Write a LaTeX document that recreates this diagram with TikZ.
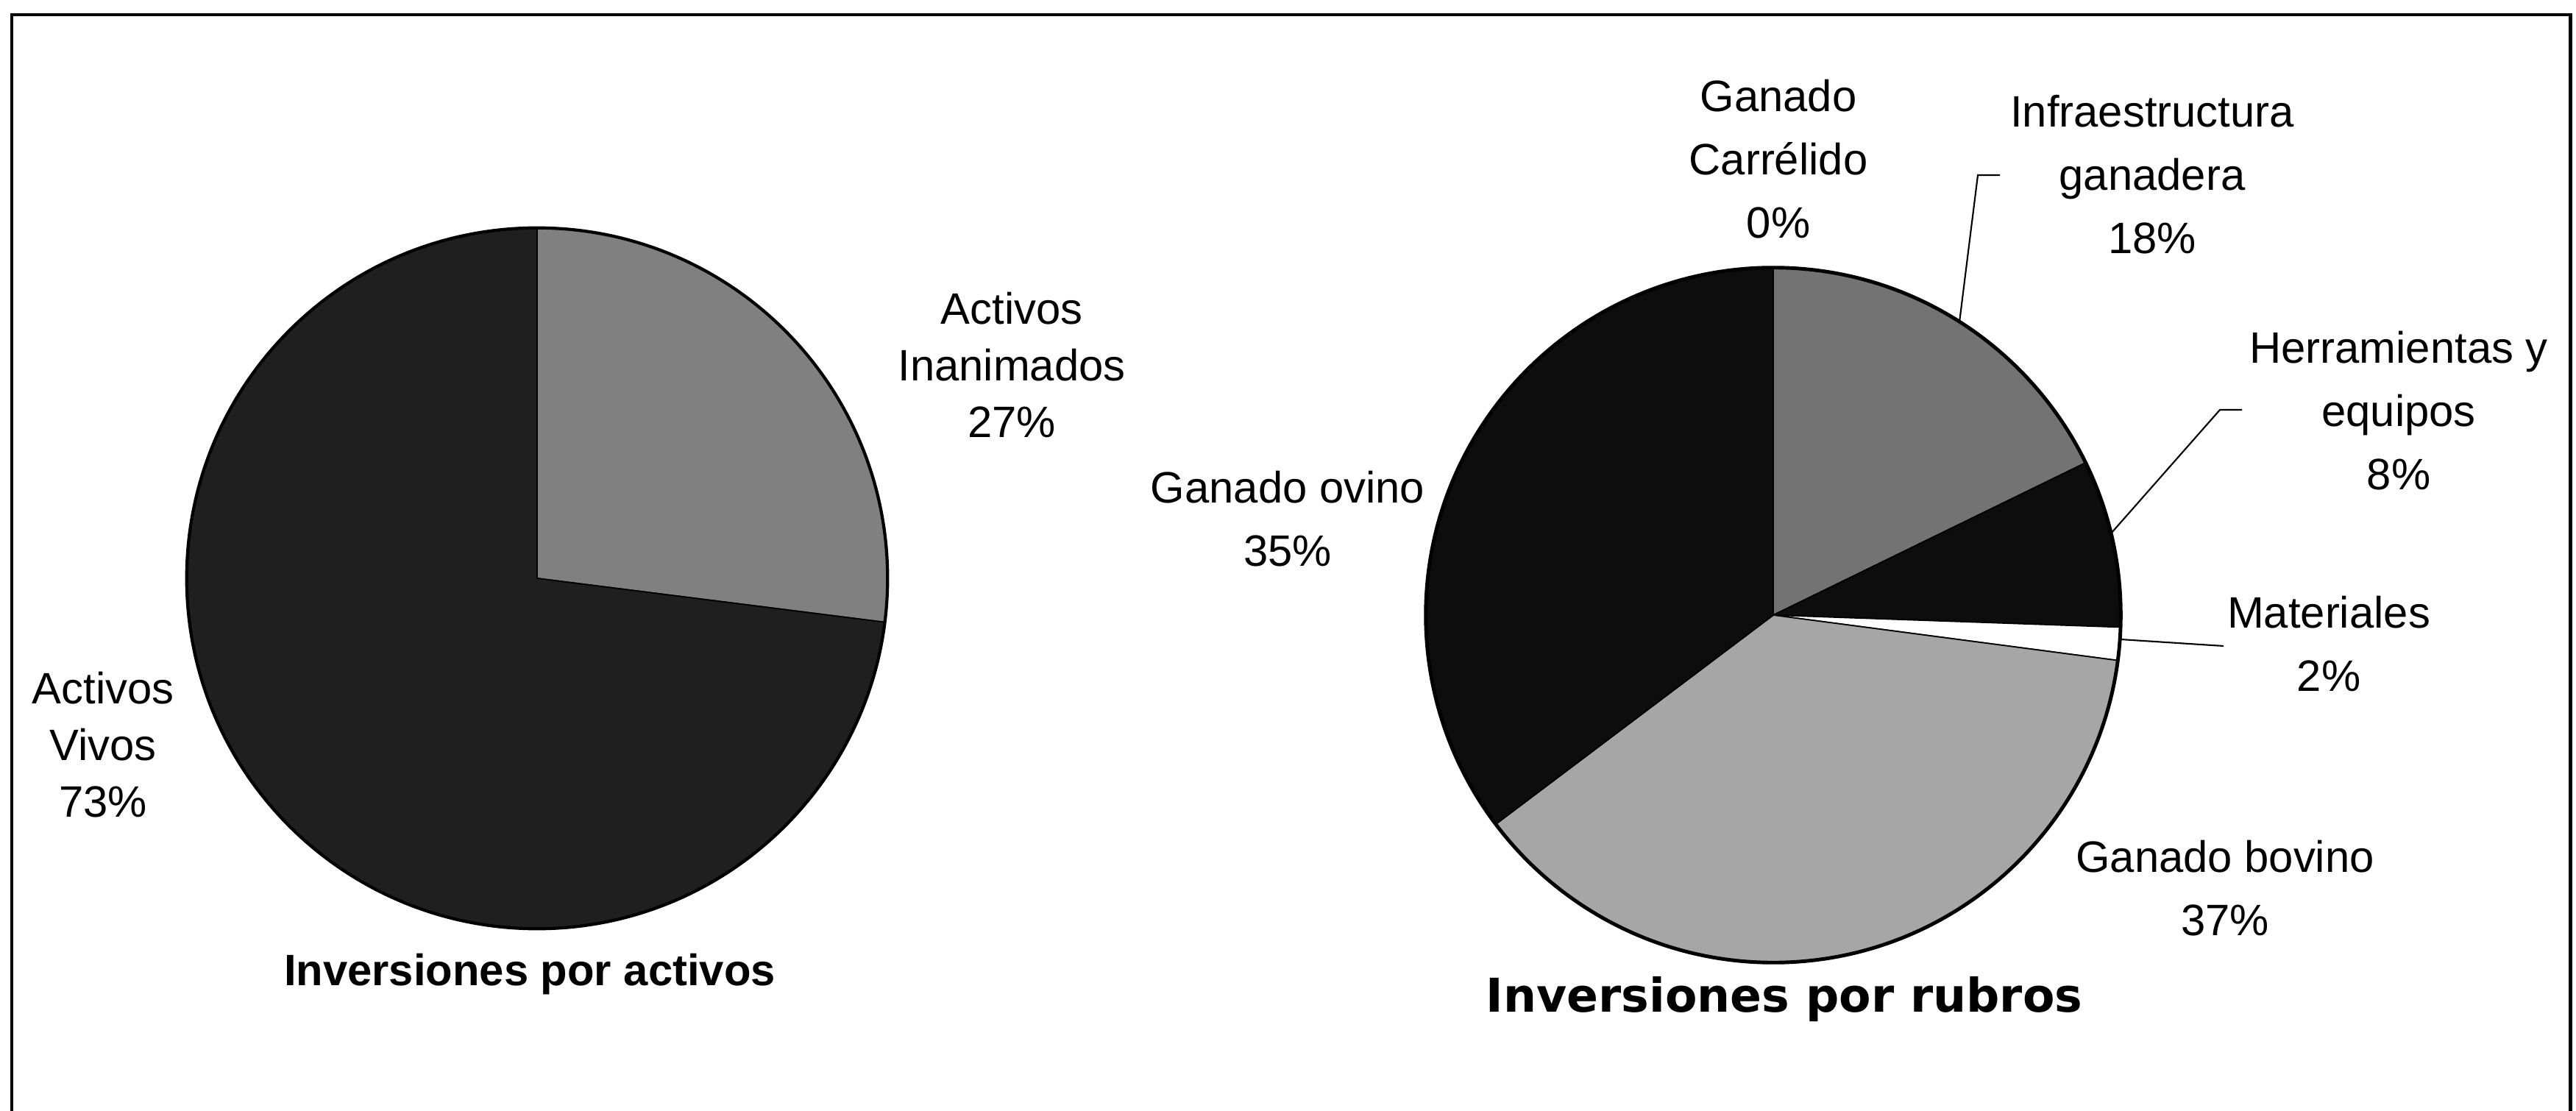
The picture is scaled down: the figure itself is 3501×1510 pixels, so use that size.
\documentclass[tikz,border=0pt]{standalone}
\usepackage{fontspec}
\setmainfont{Liberation Sans}
\newfontfamily\rubrosfont{DejaVu Sans}
\usetikzlibrary{calc}

\begin{document}
\begin{tikzpicture}[x=0.01cm, y=0.01cm]
    \useasboundingbox (0,0) rectangle (3501,-1510);

    % Frame, open at the bottom
    \draw[line width=1.4pt] (16,-1510) -- (16,-20) -- (3493,-20) -- (3493,-1510);

    % Centres of the two pies
    \coordinate (CL) at (730,-786);
    \coordinate (CR) at (2410,-836);

    % Left pie: slices clockwise from the top
    \foreach \a/\b/\c in {90/-7.2/black!50, -7.2/-270/black!88} {
        \filldraw[draw=black, line width=0.5pt, fill=\c] (CL) -- ++(\a:4.76cm)
            arc[start angle=\a, end angle=\b, radius=4.76cm] -- cycle;
    }
    \draw[line width=1.2pt] (CL) circle[radius=4.76cm];

    % Right pie: infraestructura, herramientas, materiales, bovino, ovino
    \foreach \a/\b/\c in {90/26/black!55, 26/-2/black!95, -2/-7.5/white,
                          -7.5/-143/black!35, -143/-270/black!95} {
        \filldraw[draw=black, line width=0.5pt, fill=\c] (CR) -- ++(\a:4.72cm)
            arc[start angle=\a, end angle=\b, radius=4.72cm] -- cycle;
    }
    \draw[line width=1.4pt] (CR) circle[radius=4.72cm];

    % Labels of the left pie
    \node[align=center, font=\fontsize{17}{22}\selectfont] (inan) at (1375,-496) {Activos\\Inanimados\\27\%};
    \node[align=center, font=\fontsize{17}{22}\selectfont] (vivos) at (140,-1012) {Activos\\Vivos\\73\%};
    \node[font=\fontsize{17}{20}\selectfont\bfseries] (titleL) at (720,-1324) {Inversiones por activos};

    % Labels of the right pie
    \node[align=center, font=\fontsize{17}{24.5}\selectfont] (ovino) at (1750,-705) {Ganado ovino\\35\%};
    \node[align=center, font=\fontsize{17}{24.5}\selectfont] (camel) at (2417,-216) {Ganado\\Carrélido\\0\%};
    \node[align=center, font=\fontsize{17}{24.5}\selectfont] (infra) at (2925,-237) {Infraestructura\\ganadera\\18\%};
    \node[align=center, font=\fontsize{17}{24.5}\selectfont] (herr) at (3260,-558) {Herramientas y\\equipos\\8\%};
    \node[align=center, font=\fontsize{17}{24.5}\selectfont] (mat) at (3165,-875) {Materiales\\2\%};
    \node[align=center, font=\fontsize{17}{24.5}\selectfont] (bovino) at (3024,-1207) {Ganado bovino\\37\%};
    \node[font=\fontsize{18}{20}\selectfont\rubrosfont\bfseries] (titleR) at (2425,-1358) {Inversiones por rubros};

    % Leader lines from the slices to their labels
    \coordinate (infraEdge) at ($(CR)+(57.6:4.72cm)$);
    \coordinate (infraKnee) at (2688,-238);
    \coordinate (infraEnd) at (2718,-238);
    \coordinate (herrEdge) at ($(CR)+(13.6:4.72cm)$);
    \coordinate (herrKnee) at (3017,-557);
    \coordinate (herrEnd) at (3047,-557);
    \coordinate (matEdge) at ($(CR)+(-4:4.72cm)$);
    \coordinate (matEnd) at (3022,-878);
    \draw[line width=0.6pt] (infraEdge) -- (infraKnee) -- (infraEnd);
    \draw[line width=0.6pt] (herrEdge) -- (herrKnee) -- (herrEnd);
    \draw[line width=0.6pt] (matEdge) -- (matEnd);
\end{tikzpicture}
\end{document}
